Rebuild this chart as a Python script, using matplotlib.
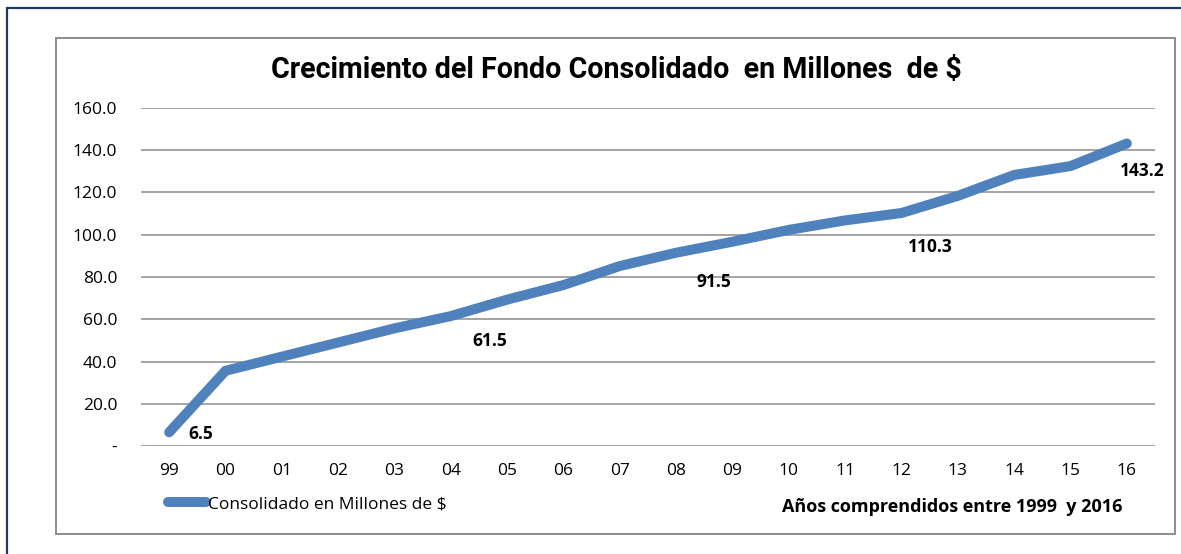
import matplotlib.pyplot as plt
from matplotlib.patches import Rectangle

# data
years = ['99', '00', '01', '02', '03', '04', '05', '06', '07',
         '08', '09', '10', '11', '12', '13', '14', '15', '16']
fondo = [6.5, 35.6, 42.3, 49.0, 55.7, 61.5, 69.3, 76.2, 85.2,
         91.5, 96.7, 102.3, 106.8, 110.3, 118.4, 128.3, 132.5, 143.2]
yticks = [0, 20, 40, 60, 80, 100, 120, 140, 160]
ytick_labels = ['-', '20.0', '40.0', '60.0', '80.0', '100.0', '120.0', '140.0', '160.0']
labelled = [0, 5, 9, 13, 17]

title = 'Crecimiento del Fondo Consolidado  en Millones  de $'
series_name = 'Consolidado en Millones de $'
xtitle = 'Años comprendidos entre 1999  y 2016'

# label offsets in pixels (dx, dy) from the point
label_offsets = [(32, -2), (39, -25), (38, -29), (29, -34), (15, -28)]

blue = '#4F81BD'
grid_col = '#8C8C8C'
plt.rcParams['font.family'] = ['Open Sans', 'DejaVu Sans']

W, H = 1181, 554
fig = plt.figure(figsize=(W / 100, H / 100), dpi=100)

# outer navy frame and inner grey chart frame
fig.patches.append(Rectangle((7 / W, -0.05), 1.1, 1 - 8 / H + 0.05, transform=fig.transFigure,
                             fill=False, ec='#1F3A68', lw=1.6))
fig.patches.append(Rectangle((56 / W, 1 - 534 / H), (1175 - 56) / W, (534 - 38) / H,
                             transform=fig.transFigure, fill=False, ec='#8C8C8C', lw=1.4))

ax = fig.add_axes([141 / W, 1 - 446 / H, (1155 - 141) / W, (446 - 108) / H])
x = list(range(len(years)))
line, = ax.plot(x, fondo, color=blue, lw=7.2, solid_capstyle='round',
                solid_joinstyle='round', label=series_name)

for i, (dx, dy) in zip(labelled, label_offsets):
    ax.annotate(f'{fondo[i]:.1f}', (x[i], fondo[i]), xytext=(dx, dy),
                textcoords='offset pixels', ha='center', va='center',
                fontsize=12.5, fontweight='bold', color='black')

ax.set_xlim(-0.5, len(years) - 0.5)
ax.set_ylim(0, 160)
ax.set_xticks(x, years)
ax.set_yticks(yticks, ytick_labels)
ax.grid(axis='y', color=grid_col, lw=1.1)
ax.set_axisbelow(True)
for s in ax.spines.values():
    s.set_visible(False)
ax.tick_params(axis='both', length=0, labelsize=12.5, colors='black')
ax.tick_params(axis='y', pad=17)
ax.tick_params(axis='x', pad=12)

fig.text(616 / W, 1 - 70 / H, title, ha='center', va='center', fontsize=20.6,
         fontweight='bold', family=['Roboto', 'DejaVu Sans'])
fig.text(952 / W, 1 - 507 / H, xtitle, ha='center', va='center', fontsize=13,
         fontweight='bold')

leg = fig.legend(handles=[line], loc='center left', bbox_to_anchor=(168 / W, 1 - 504 / H),
                 bbox_transform=fig.transFigure, frameon=False, borderpad=0,
                 borderaxespad=0, handlelength=2.2, handletextpad=0.1, fontsize=12.5)

fig.savefig('out.png', dpi=100, facecolor='white')
